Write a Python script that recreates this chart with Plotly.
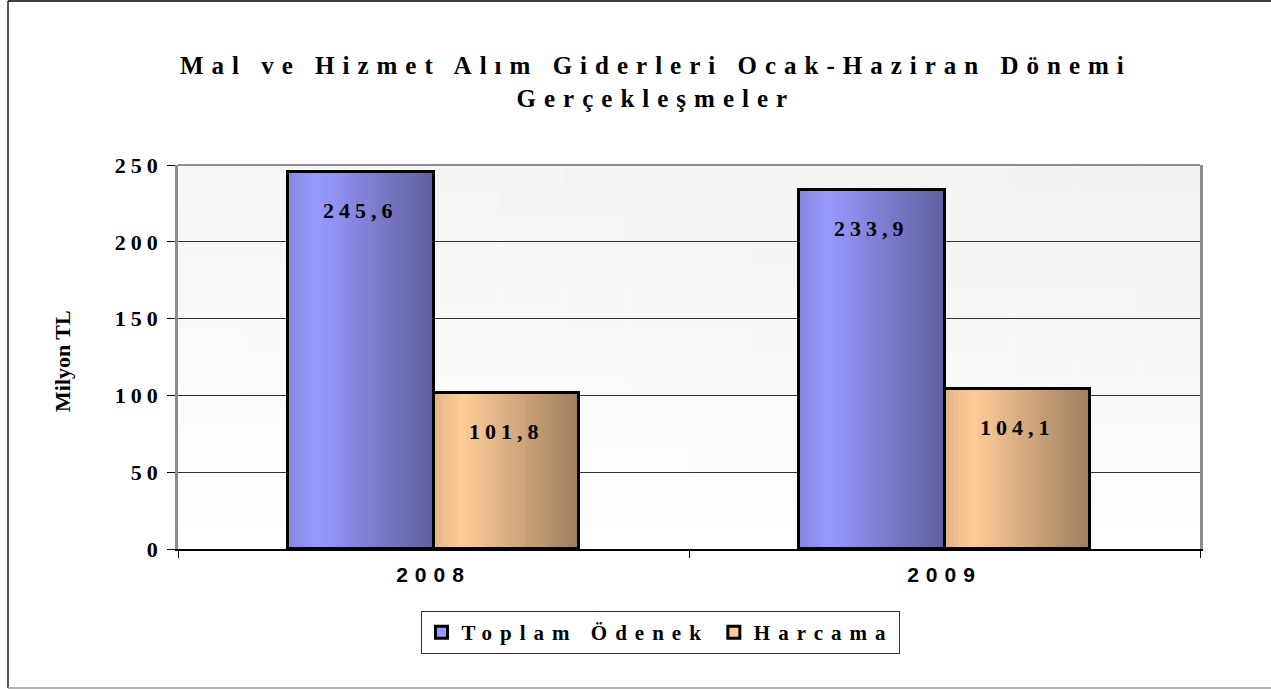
import plotly.graph_objects as go

# ---- data ----
categories = ["2008", "2009"]
series_names = ["Toplam Ödenek", "Harcama"]
toplam_odenek = [245.6, 233.9]
harcama = [101.8, 104.1]
y_ticks = [0, 50, 100, 150, 200, 250]

title_text = "Mal ve Hizmet Alım Giderleri Ocak-Haziran Dönemi<br>Gerçekleşmeler"
y_title = "Milyon TL"

# ---- style ----
SERIF = "Liberation Serif"
SANS = "Liberation Sans"
base_colors = [(153, 153, 255), (255, 204, 153)]
bar_w = 0.284
offsets = [-0.142, 0.142]
N_STRIPS = 30
W, H = 1271, 689
L, R, T, B = 178, 71, 165, 140
PW, PH = W - L - R, H - T - B


def sp(text, px):
    return f'<span style="letter-spacing:{px}px">{text}</span>'


def shade(rgb, t):
    if t < 0.2:
        f = 0.88 + 0.12 * (t / 0.2)
    else:
        f = 1.0 - 0.38 * ((t - 0.2) / 0.8)
    return "rgb({},{},{})".format(*[int(round(c * f)) for c in rgb])


def px_x(p):
    return (p - L) / PW


def px_y(p):
    return (H - B - p) / PH


fig = go.Figure()
values = [toplam_odenek, harcama]
xs = list(range(len(categories)))

for s, (name, vals) in enumerate(zip(series_names, values)):
    base = "rgb({},{},{})".format(*base_colors[s])
    fig.add_trace(go.Bar(
        x=[x + offsets[s] for x in xs], y=vals, width=bar_w,
        name=sp(name, 8), marker=dict(color=base, line=dict(color="black", width=3)),
        hoverinfo="skip", showlegend=True,
    ))
    sx, sy, sc = [], [], []
    for i, v in enumerate(vals):
        for k in range(N_STRIPS):
            t = (k + 0.5) / N_STRIPS
            sx.append(xs[i] + offsets[s] - bar_w / 2 + t * bar_w)
            sy.append(v)
            sc.append(shade(base_colors[s], t))
    fig.add_trace(go.Bar(
        x=sx, y=sy, width=bar_w / N_STRIPS * 1.05,
        marker=dict(color=sc, line=dict(width=0)),
        hoverinfo="skip", showlegend=False,
    ))
    fig.add_trace(go.Bar(
        x=[x + offsets[s] for x in xs], y=vals, width=bar_w,
        marker=dict(color="rgba(0,0,0,0)", line=dict(color="black", width=3)),
        hoverinfo="skip", showlegend=False,
    ))
    for i, v in enumerate(vals):
        fig.add_annotation(
            x=xs[i] + offsets[s], y=v, xref="x", yref="y",
            text=sp(f"{v:.1f}".replace(".", ","), 5),
            showarrow=False, yanchor="top", yshift=-24,
            font=dict(family=SERIF, size=22, color="black", weight="bold"),
        )

# y axis title
fig.add_annotation(x=px_x(62), y=px_y(361), xref="paper", yref="paper",
                   text=y_title, textangle=-90, showarrow=False,
                   xanchor="center", yanchor="middle",
                   font=dict(family=SERIF, size=22, color="black", weight="bold"))

# background gradient for the plot area
NB = 16
for j in range(NB):
    for i in range(NB):
        ty = (j + 0.5) / NB
        tx = (i + 0.5) / NB
        g = int(round(255 - 15 * ty * (0.55 + 0.45 * tx)))
        fig.add_shape(type="rect", xref="x domain", yref="y domain",
                      x0=i / NB, x1=(i + 1) / NB, y0=j / NB, y1=(j + 1) / NB,
                      layer="below", line=dict(width=0),
                      fillcolor=f"rgb({g},{g},{g})")

# top border of plot area
fig.add_shape(type="line", xref="x domain", yref="y domain", x0=0, x1=1, y0=1, y1=1,
              line=dict(color="#8c8c8c", width=2))

# outer frame
fx0, fx1 = px_x(8), px_x(1290)
fy_top, fy_bot = px_y(1), px_y(688)
fig.add_shape(type="line", xref="paper", yref="paper", x0=fx0, x1=fx1, y0=fy_top, y1=fy_top,
              line=dict(color="black", width=1.3))
fig.add_shape(type="line", xref="paper", yref="paper", x0=fx0, x1=fx0, y0=fy_bot, y1=fy_top,
              line=dict(color="black", width=1.3))
fig.add_shape(type="line", xref="paper", yref="paper", x0=fx0, x1=fx1, y0=fy_bot, y1=fy_bot,
              line=dict(color="#999999", width=1.3))

fig.update_layout(
    width=W, height=H,
    margin=dict(l=L, r=R, t=T, b=B),
    paper_bgcolor="white", plot_bgcolor="white",
    barmode="overlay", bargap=0,
    title=dict(text=sp(title_text, 8), xref="container", x=0.516, xanchor="center",
               yref="container", y=1 - 74 / H, yanchor="top",
               font=dict(family=SERIF, size=25, color="black", weight="bold")),
    showlegend=True,
    legend=dict(orientation="h", x=px_x(660), xanchor="center", y=px_y(611), yanchor="top",
                bordercolor="#333333", borderwidth=1, bgcolor="white",
                font=dict(family=SERIF, size=21, color="black", weight="bold"),
                traceorder="normal"),
)

fig.update_xaxes(
    range=[-0.5, len(categories) - 0.5],
    tickvals=xs, ticktext=[sp(c, 7) for c in categories], ticks="",
    minor=dict(tickvals=[x - 0.5 for x in xs] + [len(xs) - 0.5], ticks="outside",
               ticklen=7, tickcolor="black", tickwidth=1),
    showline=True, linecolor="black", linewidth=1.5,
    showgrid=False, zeroline=False, fixedrange=True,
    tickfont=dict(family=SANS, size=21, color="black", weight="bold"),
    ticklabelstandoff=6,
)
fig.update_yaxes(
    range=[0, 250], tickvals=y_ticks, ticktext=[sp(str(v), 5) for v in y_ticks],
    ticks="outside", ticklen=8, tickcolor="black",
    showline=True, linecolor="#8c8c8c", linewidth=2.5, mirror=True,
    showgrid=True, gridcolor="#333333", gridwidth=1, zeroline=False,
    fixedrange=True,
    tickfont=dict(family=SERIF, size=22, color="black", weight="bold"),
)

fig.write_html("out.html", config={"displayModeBar": False},
               post_script="document.body.style.margin='0';")
